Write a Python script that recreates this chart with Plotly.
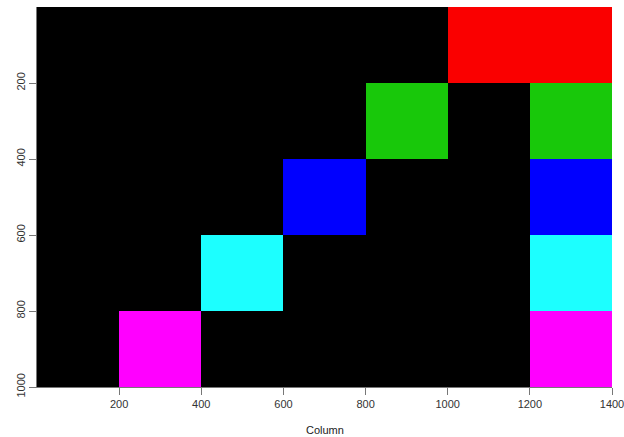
import plotly.graph_objects as go

# cell centres (columns / rows) and colour codes
col_centers = [100, 300, 500, 700, 900, 1100, 1300]
row_centers = [100, 300, 500, 700, 900]
# 0 black, 1 red, 2 green, 3 blue, 4 cyan, 5 magenta
grid = [
    [0, 0, 0, 0, 0, 1, 1],
    [0, 0, 0, 0, 2, 0, 2],
    [0, 0, 0, 3, 0, 0, 3],
    [0, 0, 4, 0, 0, 0, 4],
    [0, 5, 0, 0, 0, 0, 5],
]
palette = ["#000000", "#FA0000", "#18C80A", "#0000FF", "#1CFFFF", "#FF00FF"]
x_ticks = [200, 400, 600, 800, 1000, 1200, 1400]
y_ticks = [200, 400, 600, 800, 1000]
x_title = "Column"

n = len(palette)
colorscale = []
for i, c in enumerate(palette):
    colorscale.append([i / n, c])
    colorscale.append([(i + 1) / n, c])

fig = go.Figure(go.Heatmap(
    x=col_centers, y=row_centers, z=grid,
    zmin=-0.5, zmax=n - 0.5,
    colorscale=colorscale, showscale=False, hoverinfo="skip",
))

axis_font = dict(family="Liberation Sans, Arial, sans-serif", size=11, color="#333333")
fig.update_layout(
    width=624, height=437,
    margin=dict(l=37, r=12, t=7, b=50),
    paper_bgcolor="white", plot_bgcolor="white",
    font=axis_font,
    xaxis=dict(
        range=[0, 1400], tickvals=x_ticks, ticks="outside", ticklen=7,
        tickcolor="#777777", showline=True, linecolor="#777777",
        showgrid=False, zeroline=False, ticklabeloverflow="allow",
        automargin=False,
    ),
    yaxis=dict(
        range=[1000, 0], tickvals=y_ticks, ticks="outside", ticklen=7,
        tickcolor="#777777", showline=True, linecolor="#777777",
        showgrid=False, zeroline=False, tickangle=-90, ticklabeloverflow="allow",
        automargin=False,
    ),
    annotations=[dict(
        text=x_title, xref="paper", yref="paper", x=0.5, y=0,
        yshift=-43, showarrow=False, yanchor="middle",
        font=dict(size=11, color="#222222"),
    )],
)

fig.write_html("out.html")
